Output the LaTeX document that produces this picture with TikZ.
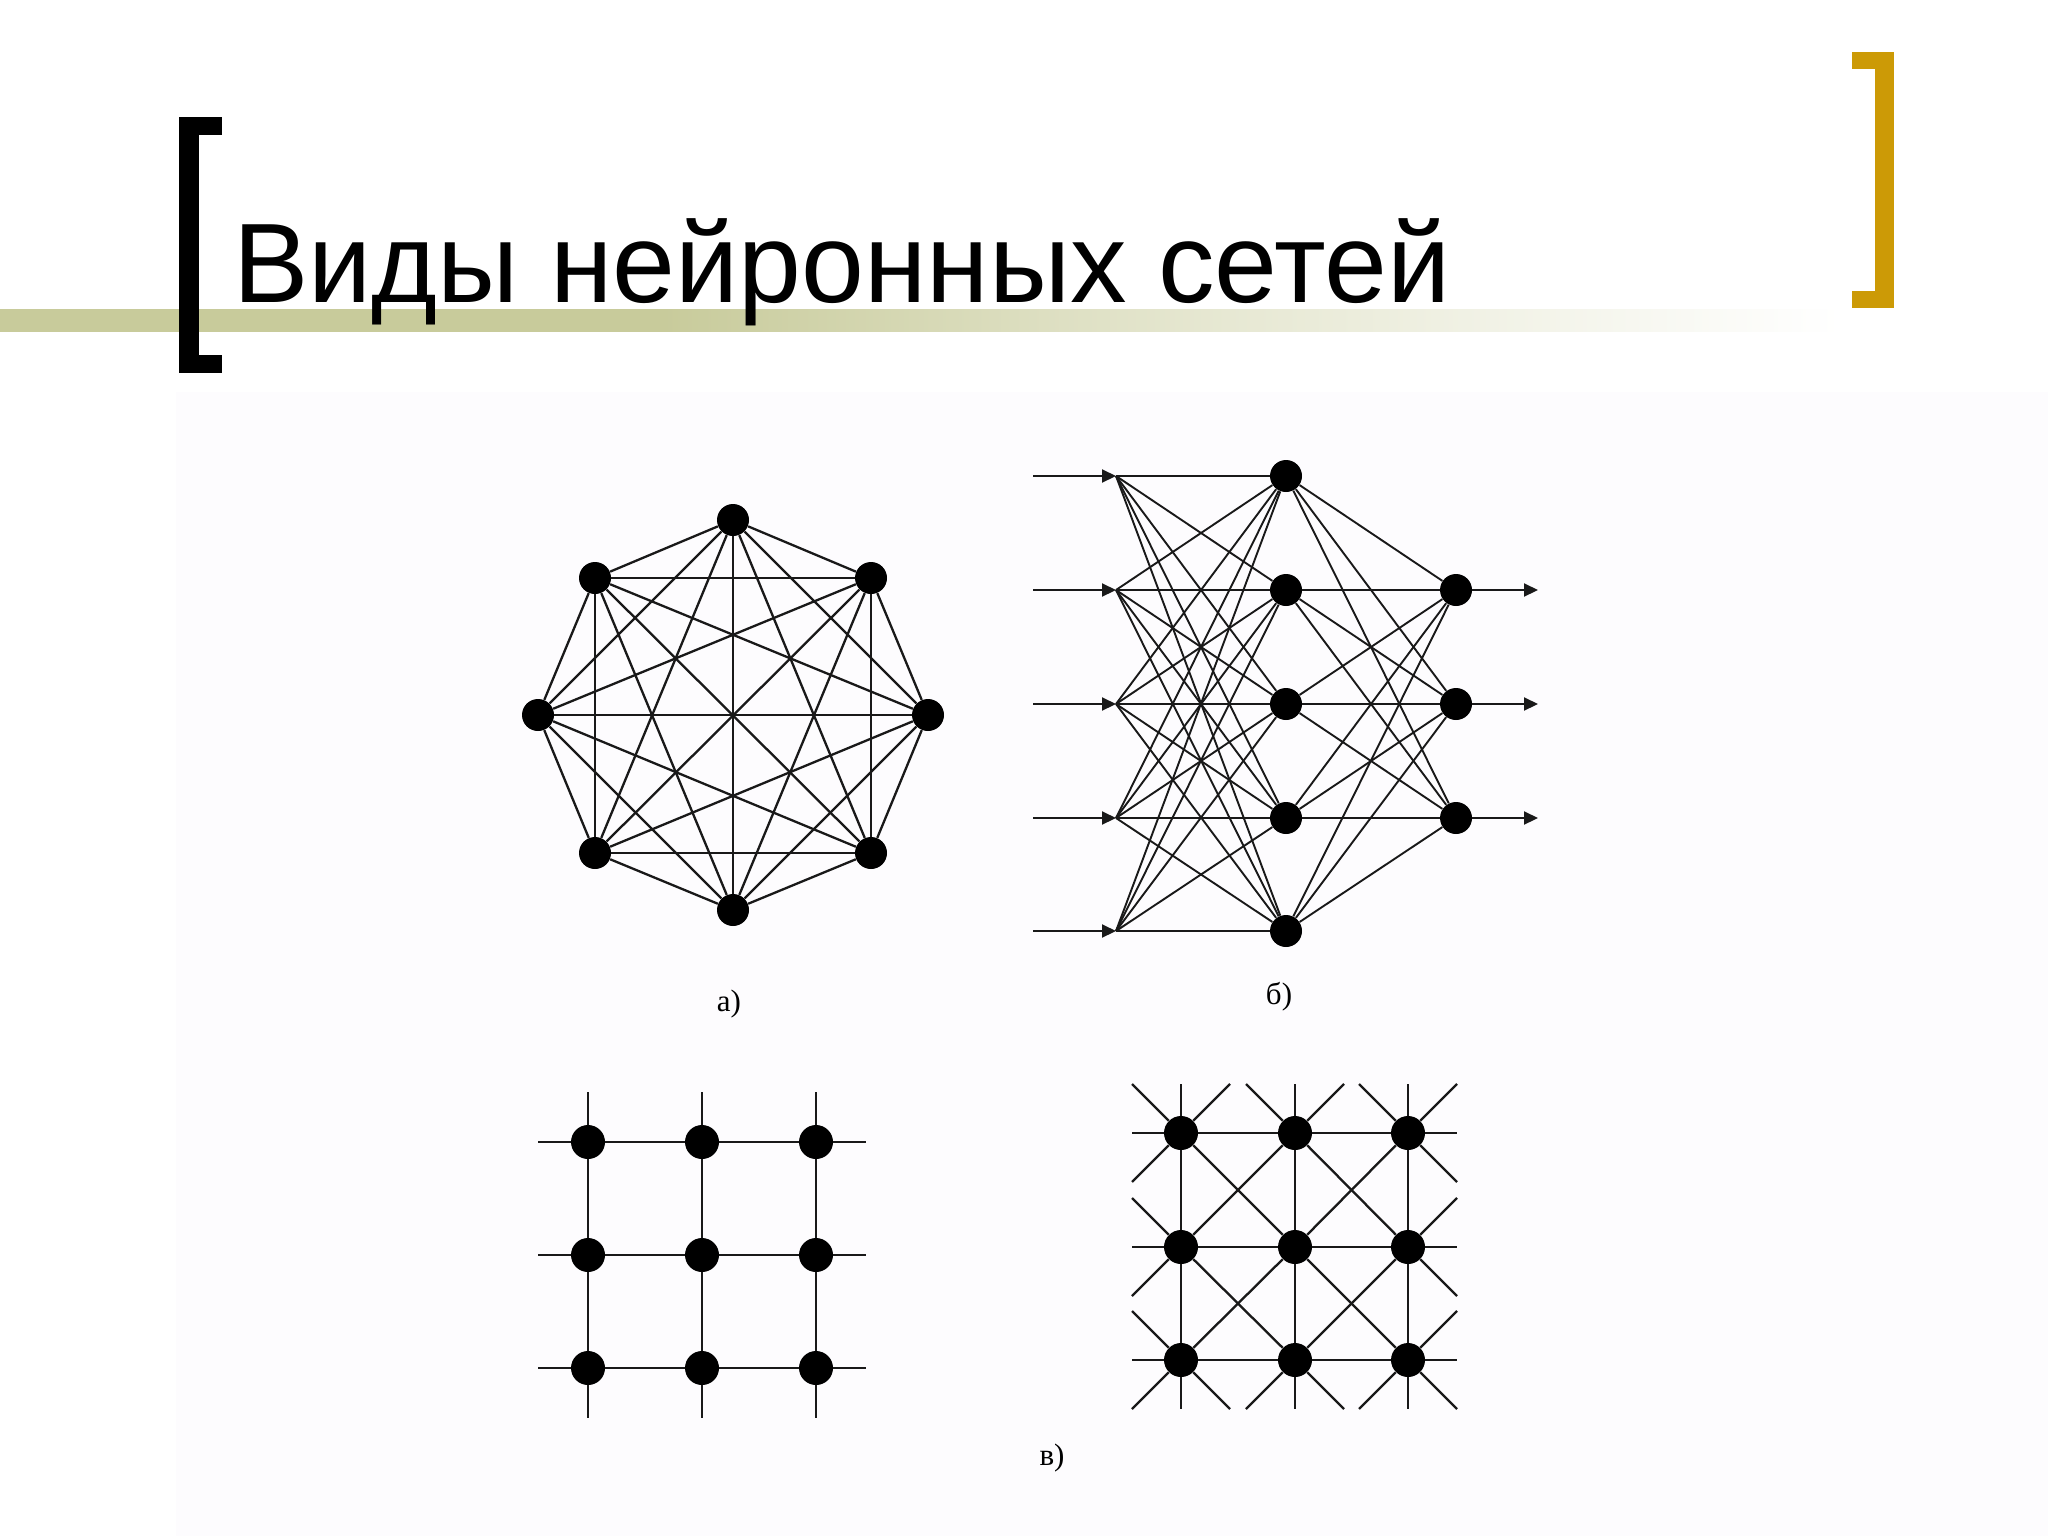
\documentclass[tikz,border=0pt]{standalone}
\usepackage{fontspec}
\setmainfont{Liberation Serif}
\newfontfamily\titlefont{Liberation Sans}
\usetikzlibrary{arrows.meta}
\definecolor{bandolive}{RGB}{200,203,155}
\definecolor{bracketgold}{RGB}{204,154,6}
\definecolor{imgtint}{RGB}{253,252,254}
\pgfdeclarehorizontalshading{bandshade}{100bp}{color(0bp)=(bandolive); color(25bp)=(bandolive); color(43bp)=(bandolive); color(58bp)=(bandolive!45!white); color(75bp)=(white); color(100bp)=(white)}
\begin{document}
\begin{tikzpicture}[x=0.5pt,y=-0.5pt,
  neuron/.style={circle,fill=black,inner sep=0pt,minimum size=16pt},
  gnode/.style={circle,fill=black,inner sep=0pt,minimum size=17pt},
  link/.style={draw=black!90,line width=1.15pt},
  flink/.style={draw=black!90,line width=0.95pt},
  sig/.style={draw=black!90,line width=1pt,-{Triangle[length=7pt,width=6.5pt]}},
  caption/.style={inner sep=0pt,font=\fontsize{15.5}{17}\selectfont}]
\useasboundingbox (0,0) rectangle (2048,1536);
\fill[white] (0,0) rectangle (2048,1536);
\fill[imgtint] (176,392) rectangle (2048,1536);
% title band
\shade[shading=bandshade] (0,309) rectangle (1840,331);
% brackets
\fill[black] (179,117) rectangle (199,373);
\fill[black] (179,117) rectangle (222,135);
\fill[black] (179,355) rectangle (222,373);
\fill[bracketgold] (1875,52) rectangle (1894,308);
\fill[bracketgold] (1852,52) rectangle (1894,69);
\fill[bracketgold] (1852,291) rectangle (1894,308);
\node[anchor=base west,inner sep=0pt,font=\titlefont\fontsize{56.5}{60}\selectfont] (title) at (233,302) {Виды нейронных сетей};
% ---------- a) fully connected ----------
\node[neuron] (o1) at (733,520) {};
\node[neuron] (o2) at (871,578) {};
\node[neuron] (o3) at (928,715) {};
\node[neuron] (o4) at (871,853) {};
\node[neuron] (o5) at (733,910) {};
\node[neuron] (o6) at (595,853) {};
\node[neuron] (o7) at (538,715) {};
\node[neuron] (o8) at (595,578) {};
\foreach \i in {1,...,7}{
  \pgfmathtruncatemacro\k{\i+1}
  \foreach \j in {\k,...,8}{\draw[link] (o\i) -- (o\j);}
}
\node[caption] (capa) at (729,1004) {а)};
% ---------- b) layered ----------
\foreach \y [count=\n] in {476,590,704,818,931}{
  \coordinate (s\n) at (1033,\y);
  \coordinate (f\n) at (1116,\y);
  \node[neuron] (h\n) at (1286,\y) {};
}
\foreach \y [count=\n] in {590,704,818}{
  \node[neuron] (q\n) at (1456,\y) {};
  \coordinate (e\n) at (1538,\y);
}
\foreach \n in {1,...,5}{
  \draw[sig] (s\n) -- (f\n);
  \foreach \m in {1,...,5}{\draw[flink] (f\n) -- (h\m);}
  \foreach \m in {1,2,3}{\draw[flink] (h\n) -- (q\m);}
}
\foreach \m in {1,2,3}{\draw[sig] (q\m) -- (e\m);}
\node[caption] (capb) at (1279,997) {б)};
% ---------- c) lattice, 4 neighbours ----------
\foreach \x [count=\i from 0] in {588,702,816}{
  \foreach \y [count=\j from 0] in {1142,1255,1368}{
    \node[gnode] (g\i\j) at (\x,\y) {};
  }
}
\foreach \i in {0,1,2}{
  \foreach \j in {0,1,2}{
    \foreach \dx/\dy in {1/0,-1/0,0/1,0/-1}{
      \pgfmathtruncatemacro\ni{\i+\dx}
      \pgfmathtruncatemacro\nj{\j+\dy}
      \pgfmathtruncatemacro\inside{and(and(\ni>=0,\ni<=2),and(\nj>=0,\nj<=2))}
      \pgfmathtruncatemacro\fwd{or(\dx>0,and(\dx==0,\dy>0))}
      \ifnum\inside=1
        \ifnum\fwd=1 \draw[link] (g\i\j) -- (g\ni\nj); \fi
      \else
        \draw[link] (g\i\j) -- ++(\dx*50,\dy*50);
      \fi
    }
  }
}
% ---------- c) lattice, 8 neighbours ----------
\foreach \x [count=\i from 0] in {1181,1295,1408}{
  \foreach \y [count=\j from 0] in {1133,1247,1360}{
    \node[gnode] (d\i\j) at (\x,\y) {};
  }
}
\foreach \i in {0,1,2}{
  \foreach \j in {0,1,2}{
    \foreach \dx/\dy in {1/0,-1/0,0/1,0/-1,1/1,1/-1,-1/1,-1/-1}{
      \pgfmathtruncatemacro\ni{\i+\dx}
      \pgfmathtruncatemacro\nj{\j+\dy}
      \pgfmathtruncatemacro\inside{and(and(\ni>=0,\ni<=2),and(\nj>=0,\nj<=2))}
      \pgfmathtruncatemacro\fwd{or(\dx>0,and(\dx==0,\dy>0))}
      \ifnum\inside=1
        \ifnum\fwd=1 \draw[link] (d\i\j) -- (d\ni\nj); \fi
      \else
        \draw[link] (d\i\j) -- ++(\dx*49,\dy*49);
      \fi
    }
  }
}
\node[caption] (capc) at (1052,1458) {в)};
\end{tikzpicture}
\end{document}
